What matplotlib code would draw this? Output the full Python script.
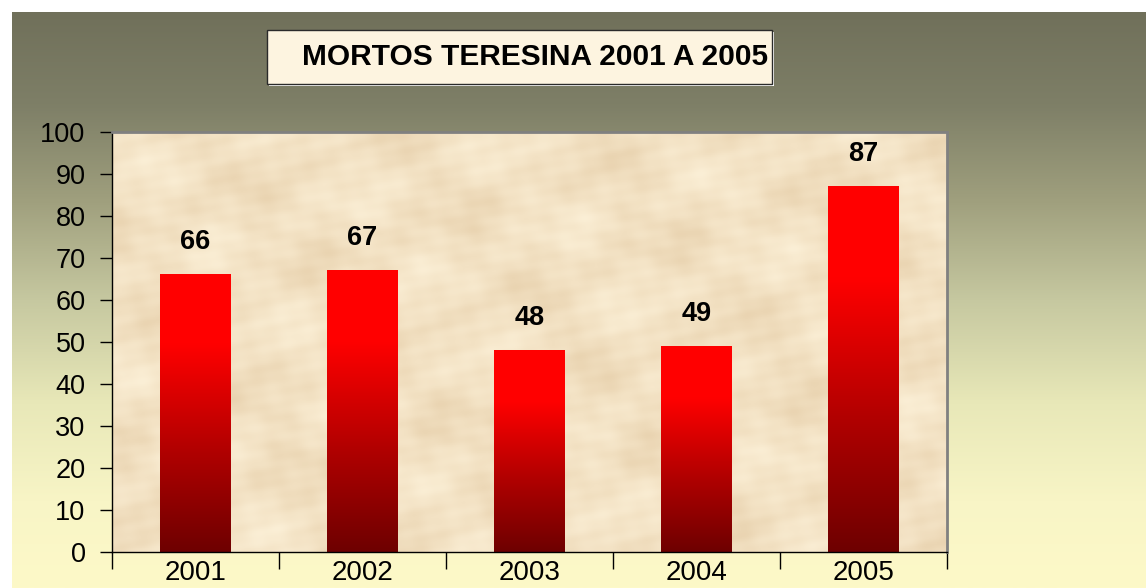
import numpy as np
import matplotlib.pyplot as plt
from matplotlib.patches import Rectangle
from matplotlib.colors import LinearSegmentedColormap

plt.rcParams['font.family'] = ['Liberation Sans', 'DejaVu Sans']

anos = ['2001', '2002', '2003', '2004', '2005']
mortos = [66, 67, 48, 49, 87]
titulo = 'MORTOS TERESINA 2001 A 2005'

W, H = 1146, 588
fig = plt.figure(figsize=(W / 100, H / 100), dpi=100)
fig.patch.set_facecolor('white')

# background gradient (olive at top -> pale yellow at bottom)
bg = fig.add_axes([12 / W, 0, (W - 12) / W, (H - 12) / H])
bg_cmap = LinearSegmentedColormap.from_list('bg', [
    (0.00, '#fdf9c8'), (0.15, '#f8f5c6'), (0.32, '#e8e8b8'),
    (0.50, '#c6c8a0'), (0.67, '#a0a07e'), (0.84, '#7e7f67'), (1.00, '#70705a')])
grad = np.linspace(0, 1, 256).reshape(-1, 1)
bg.imshow(grad, aspect='auto', cmap=bg_cmap, origin='lower', extent=[0, 1, 0, 1])
bg.set_axis_off()

# title box
fig.patches.append(Rectangle((269 / W, 1 - 86 / H), 505 / W, 54 / H, transform=fig.transFigure,
                             facecolor='white', edgecolor='none', zorder=1))
fig.patches.append(Rectangle((267 / W, 1 - 84 / H), 505 / W, 54 / H, transform=fig.transFigure,
                             facecolor='#fdf4e0', edgecolor='#2a2a2a', lw=1.0, zorder=2))
fig.text(302 / W, 1 - 57 / H, titulo, fontsize=21.5, fontweight='bold', ha='left', va='center', zorder=3)

ax = fig.add_axes([112 / W, (H - 552) / H, 835 / W, 420 / H])
ax.set_xlim(0, len(anos))
ax.set_ylim(0, 100)

# parchment texture
yy, xx = np.mgrid[0:1:200j, 0:1:400j]
tex = (np.sin(xx * 23 + yy * 7) * np.sin(yy * 19 - xx * 5) * 0.5
       + np.sin(xx * 61 + np.sin(yy * 13) * 3) * np.cos(yy * 47 + xx * 11) * 0.35
       + np.sin(xx * 137 + yy * 89) * np.sin(yy * 113 - xx * 71) * 0.15)
tex_cmap = LinearSegmentedColormap.from_list('tex', ['#e9d3b0', '#f3e2c4', '#fbefd6'])
ax.imshow(tex, aspect='auto', cmap=tex_cmap, extent=[0, len(anos), 0, 100], zorder=0)

# bars with vertical gradient
bar_cmap = LinearSegmentedColormap.from_list('bar', [(0, '#6e0000'), (0.37, '#b20000'), (0.75, '#ff0000'), (1, '#ff0000')])
bw = 0.42
for i, v in enumerate(mortos):
    g = np.linspace(0, 1, 256).reshape(-1, 1)
    ax.imshow(g, aspect='auto', cmap=bar_cmap, origin='lower',
              extent=[i + 0.5 - bw / 2, i + 0.5 + bw / 2, 0, v], zorder=2)
    ax.text(i + 0.5, v + 4.6, str(v), ha='center', va='bottom', fontsize=19.5, fontweight='bold', zorder=3)

ax.set_xlim(0, len(anos))
ax.set_ylim(0, 100)

ax.set_yticks(range(0, 101, 10))
ax.tick_params(axis='y', direction='out', length=9, width=1, labelsize=19.5, pad=10)
ax.set_xticks([i + 0.5 for i in range(len(anos))])
ax.set_xticklabels(anos)
ax.tick_params(axis='x', which='major', length=0, labelsize=20, pad=6)
ax.set_xticks(range(len(anos) + 1), minor=True)
ax.tick_params(axis='x', which='minor', direction='out', length=12, width=1)

for s in ['left', 'bottom']:
    ax.spines[s].set_color('black')
    ax.spines[s].set_linewidth(1.0)
for s in ['top', 'right']:
    ax.spines[s].set_color('#808080')
    ax.spines[s].set_linewidth(2.0)

fig.savefig('out.png', dpi=100)
